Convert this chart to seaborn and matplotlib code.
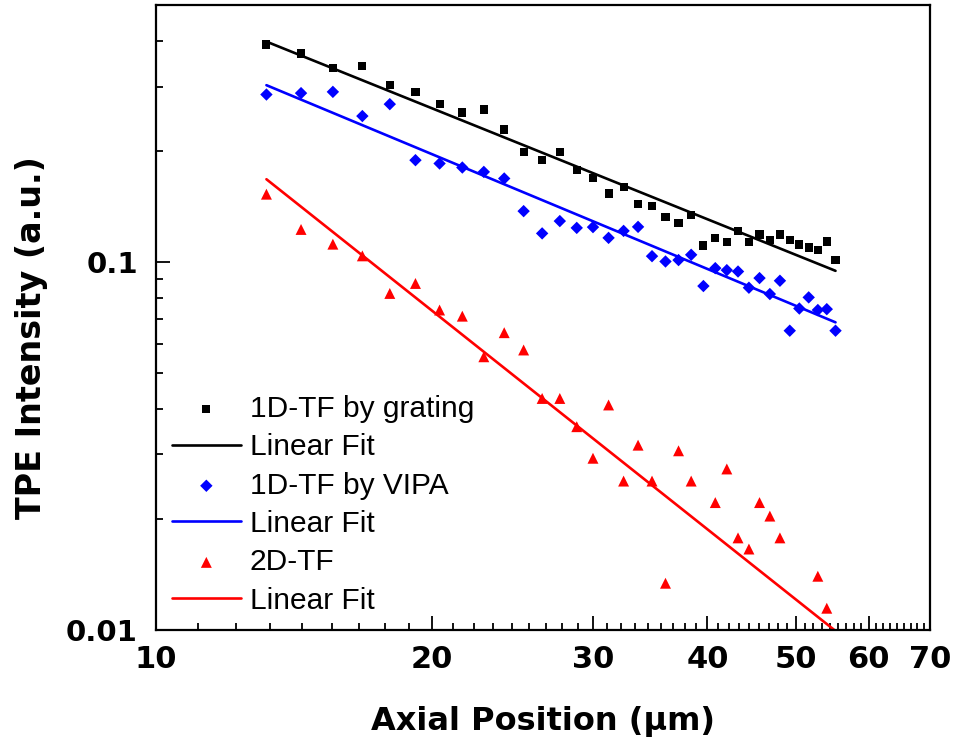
import numpy as np
import pandas as pd
import matplotlib
matplotlib.use("Agg")
import matplotlib.pyplot as plt
import seaborn as sns
from matplotlib.ticker import FixedLocator, FixedFormatter, NullFormatter

# ---------------- data ----------------
x_pos = [13.2, 14.4, 15.6, 16.8, 18.0, 19.2, 20.4, 21.6, 22.8, 24.0, 25.2, 26.4,
         27.6, 28.8, 30.0, 31.2, 32.4, 33.6, 34.8, 36.0, 37.2, 38.4, 39.6, 40.8,
         42.0, 43.2, 44.4, 45.6, 46.8, 48.0, 49.2, 50.4, 51.6, 52.8, 54.0, 55.2]

grating_y = [0.3905, 0.369, 0.3373, 0.3415, 0.3027, 0.2903, 0.2693, 0.2551, 0.260,
             0.2294, 0.1987, 0.1893, 0.1994, 0.1778, 0.1694, 0.1537, 0.1596, 0.1440,
             0.1420, 0.1325, 0.1279, 0.1345, 0.1110, 0.1160, 0.1136, 0.1216, 0.1136,
             0.1189, 0.1146, 0.1189, 0.1146, 0.1117, 0.1096, 0.1080, 0.1138, 0.1011]

vipa_y = [0.2855, 0.2880, 0.2903, 0.2495, 0.2688, 0.1893, 0.1854, 0.1808, 0.1759,
          0.1688, 0.1376, 0.1197, 0.1293, 0.1239, 0.1245, 0.1164, 0.1216, 0.1247,
          0.1038, 0.1004, 0.1013, 0.1047, 0.0861, 0.0963, 0.0951, 0.0943, 0.0852,
          0.0905, 0.0819, 0.0890, 0.0651, 0.0748, 0.0802, 0.0741, 0.0745, 0.0651]

tf2d_x = [13.2, 14.4, 15.6, 16.8, 18.0, 19.2, 20.4, 21.6, 22.8, 24.0, 25.2, 26.4,
          27.6, 28.8, 30.0, 31.2, 32.4, 33.6, 34.8, 36.0, 37.2, 38.4, 40.8, 42.0,
          43.2, 44.4, 45.6, 46.8, 48.0, 52.8, 54.0]
tf2d_y = [0.1530, 0.1227, 0.1119, 0.1040, 0.0822, 0.0875, 0.0741, 0.0713, 0.0553,
          0.0643, 0.0577, 0.0426, 0.0426, 0.0357, 0.0293, 0.0409, 0.0254, 0.0318,
          0.0254, 0.0134, 0.0307, 0.0254, 0.0222, 0.0274, 0.0178, 0.0166, 0.0222,
          0.0204, 0.0178, 0.0140, 0.01146]

# linear fits (straight lines in log-log space), endpoints
fit_x = [13.2, 55.2]
grating_fit = [0.3976, 0.0947]
vipa_fit = [0.3027, 0.0686]
tf2d_fit = [0.168, 0.00994]

series_labels = ["1D-TF by grating", "Linear Fit", "1D-TF by VIPA", "Linear Fit",
                 "2D-TF", "Linear Fit"]
x_ticks = [10, 20, 30, 40, 50, 60, 70]
x_tick_labels = ["10", "20", "30", "40", "50", "60", "70"]
y_ticks = [0.01, 0.1]
y_tick_labels = ["0.01", "0.1"]
y_minor = [0.02, 0.03, 0.04, 0.05, 0.06, 0.07, 0.08, 0.09, 0.2, 0.3, 0.4]

# ---------------- style ----------------
sns.set_theme(style="ticks")
plt.rcParams["font.family"] = ["DejaVu Sans"]
plt.rcParams["text.color"] = "black"

W, H = 956, 749
fig = plt.figure(figsize=(W / 100, H / 100), dpi=100)
L, R, T, B = 156, 930, 5, 630
ax = fig.add_axes([L / W, 1 - B / H, (R - L) / W, (B - T) / H])
ax.set_xscale("log")
ax.set_yscale("log")

handles = []


def add_scatter(x, y, marker, color, size):
    n = len(ax.collections)
    sns.scatterplot(x=x, y=y, marker=marker, color=color, s=size,
                    edgecolor="none", ax=ax, legend=False)
    handles.append(ax.collections[n])


def add_fit(x, y, color):
    n = len(ax.lines)
    sns.lineplot(x=x, y=y, color=color, lw=1.9, errorbar=None, ax=ax, legend=False)
    handles.append(ax.lines[n])


add_scatter(x_pos, grating_y, "s", "black", 34)
add_fit(fit_x, grating_fit, "black")
add_scatter(x_pos, vipa_y, "D", "#0000FF", 40)
add_fit(fit_x, vipa_fit, "#0000FF")
add_scatter(tf2d_x, tf2d_y, "^", "#FF0000", 62)
add_fit(fit_x, tf2d_fit, "#FF0000")

ax.set_xlim(10, 70)
ax.set_ylim(0.01, 0.5)

# ticks
minor_x = []
for a, b in zip(x_ticks[:-1], x_ticks[1:]):
    minor_x += list(np.linspace(a, b, 10)[1:-1])
ax.xaxis.set_major_locator(FixedLocator(x_ticks))
ax.xaxis.set_major_formatter(FixedFormatter(x_tick_labels))
ax.xaxis.set_minor_locator(FixedLocator(minor_x))
ax.xaxis.set_minor_formatter(NullFormatter())
ax.yaxis.set_major_locator(FixedLocator(y_ticks))
ax.yaxis.set_major_formatter(FixedFormatter(y_tick_labels))
ax.yaxis.set_minor_locator(FixedLocator(y_minor))
ax.yaxis.set_minor_formatter(NullFormatter())

ax.tick_params(which="both", direction="in", color="black", width=1.3,
               top=False, right=False)
ax.tick_params(which="major", length=10)
ax.tick_params(which="minor", length=5)
ax.tick_params(axis="x", which="major", pad=11, labelsize=22, labelcolor="black")
ax.tick_params(axis="y", which="major", pad=13, labelsize=21, labelcolor="black")
for lab in ax.get_xticklabels() + ax.get_yticklabels():
    lab.set_fontweight("bold")

for sp in ax.spines.values():
    sp.set_visible(True)
    sp.set_color("black")
    sp.set_linewidth(1.6)
ax.set_facecolor("white")
ax.grid(False)

ax.set_xlabel("Axial Position (\u03bcm)", fontsize=23, fontweight="bold",
              color="black", labelpad=23)
ax.set_ylabel("TPE Intensity (a.u.)", fontsize=24, fontweight="bold", color="black")
ax.yaxis.set_label_coords((48 - L) / (R - L), (B - 338) / (B - T))

leg = ax.legend(handles, series_labels, loc="upper left",
                bbox_to_anchor=(172 / W, 1 - 395 / H), bbox_transform=fig.transFigure,
                frameon=False, borderpad=0, borderaxespad=0,
                prop={"family": "Liberation Sans", "size": 21.5},
                handlelength=2.3, handletextpad=0.3, labelspacing=0.345,
                scatterpoints=1, labelcolor="black")

fig.savefig("out.png", dpi=100, facecolor="white")
